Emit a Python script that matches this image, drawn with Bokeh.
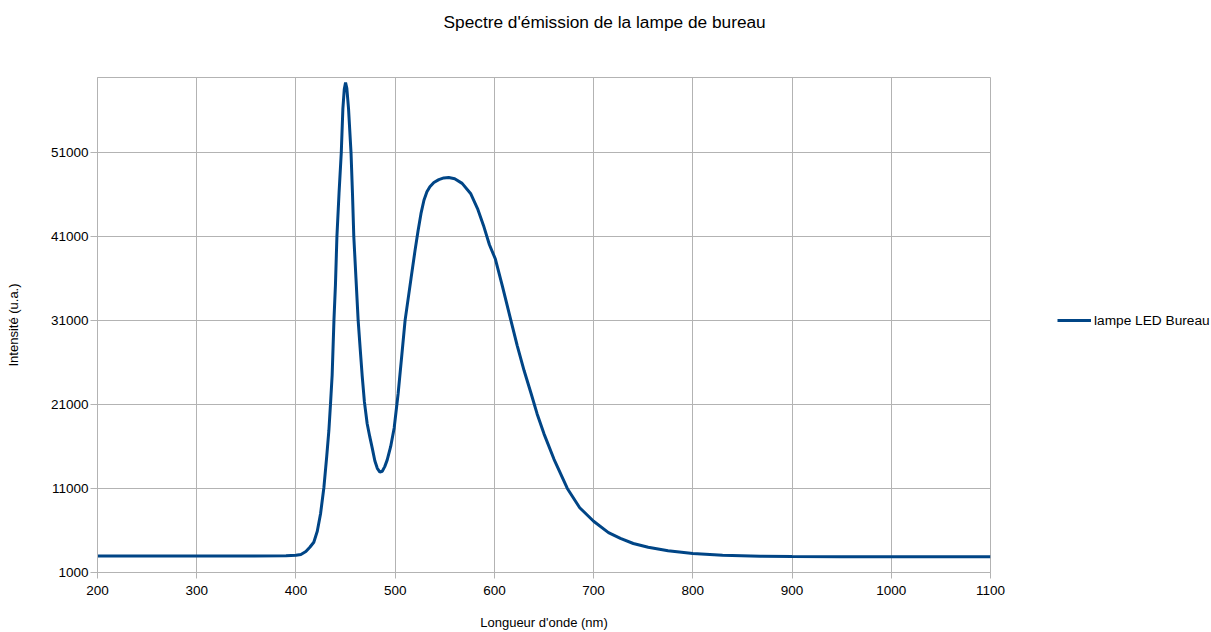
from bokeh.plotting import figure
from bokeh.layouts import row
from bokeh.models import Range1d, FixedTicker, Legend, LegendItem, Title
from bokeh.embed import file_html
from bokeh.resources import INLINE

# ---- data ----
wavelength_nm = [200, 250, 300, 350, 390, 400, 405, 410, 414, 418, 421.5, 424.8, 428.2, 431, 433.2,
                 434.8, 436.5, 438.3, 439.8, 441.3, 443.5, 445.7, 447.3, 448.7, 450, 451.3, 453,
                 455.5, 457, 458.3, 460.5, 462.7, 464.7, 466.7, 469, 471.8, 474.5, 476.9, 479.5,
                 482, 484.6, 487, 489.5, 492, 495.5, 499, 503, 506, 510, 516, 520, 523, 526, 529,
                 532, 535, 539, 544, 549, 554, 560, 567.5, 576, 583, 589, 595, 601, 608, 616, 623,
                 630, 637, 643, 650, 660, 673.5, 686, 700, 715, 727, 740, 755, 775, 800, 830, 868,
                 900, 950, 1000, 1050, 1100]
intensity = [2950, 2960, 2960, 2970, 2990, 3050, 3150, 3500, 4000, 4600, 5900, 7990, 11150, 14800, 17900,
             21000, 24500, 31000, 35200, 41000, 46300, 51000, 56200, 58500, 59300, 58600, 56200,
             51000, 46000, 41000, 36000, 31000, 27700, 24500, 21300, 18700, 17100, 15800, 14300,
             13400, 12950, 13050, 13600, 14400, 16000, 18200, 22300, 26000, 31000, 36000, 39300, 41600, 43700, 45300,
             46300, 46900, 47400, 47750, 47950, 48000, 47850, 47300, 46100, 44300, 42300, 40000, 38300, 35100, 31300, 28000,
             25000, 22300, 19900, 17500, 14500, 11000, 8700, 7100, 5750, 5050, 4450, 4000, 3580, 3250, 3060, 2930,
             2900, 2880, 2870, 2870, 2870]
series_name = "lampe LED Bureau"
x_ticks = [200, 300, 400, 500, 600, 700, 800, 900, 1000, 1100]
y_ticks = [1000, 11000, 21000, 31000, 41000, 51000]

title_text = "Spectre d'émission de la lampe de bureau"
x_label = "Longueur d'onde (nm)"
y_label = "Intensité (u.a.)"

FONT = "Liberation Sans"
GRID = "#b3b3b3"
LINE = "#004586"

MAIN_W = 1015
p = figure(width=MAIN_W, height=632, output_backend="svg", toolbar_location=None,
           x_range=Range1d(200, 1100), y_range=Range1d(1000, 59900),
           min_border_left=97, min_border_right=MAIN_W - 990, min_border_top=77, min_border_bottom=60)

# spacer between frame and title, then the title further out
spacer = Title(text=" ", text_font=FONT, text_font_size="13px", standoff=29)
p.add_layout(spacer, "above")
main_title = Title(text=title_text, align="left", offset=346, text_font=FONT,
                   text_font_size="17.3px", text_font_style="normal", text_color="#000000", standoff=0)
p.add_layout(main_title, "above")

p.outline_line_color = GRID
p.outline_line_width = 1
p.background_fill_color = "white"
p.border_fill_color = "white"

for ax in (p.xaxis[0], p.yaxis[0]):
    ax.axis_line_color = GRID
    ax.major_tick_line_color = GRID
    ax.minor_tick_line_color = None
    ax.major_tick_in = 0
    ax.major_label_text_font = FONT
    ax.major_label_text_font_size = "13.5px"
    ax.major_label_text_color = "#000000"
    ax.axis_label_text_font = FONT
    ax.axis_label_text_font_size = "13px"
    ax.axis_label_text_font_style = "normal"
    ax.axis_label_text_color = "#000000"

p.xaxis[0].ticker = FixedTicker(ticks=x_ticks)
p.yaxis[0].ticker = FixedTicker(ticks=y_ticks)
p.xaxis[0].major_tick_out = 6
p.xaxis[0].major_label_standoff = 7
p.xaxis[0].axis_label = x_label
p.xaxis[0].axis_label_standoff = 17
p.yaxis[0].major_tick_out = 7
p.yaxis[0].major_label_standoff = 2
p.yaxis[0].axis_label = y_label
p.yaxis[0].axis_label_standoff = 27

p.xgrid.ticker = FixedTicker(ticks=x_ticks)
p.ygrid.ticker = FixedTicker(ticks=y_ticks)
p.xgrid.grid_line_color = GRID
p.ygrid.grid_line_color = GRID

p.line(wavelength_nm, intensity, line_color=LINE, line_width=3)

# ---- legend panel to the right (separate, axis-less figure) ----
LEG_W = 1211 - MAIN_W
pl = figure(width=LEG_W, height=632, output_backend="svg", toolbar_location=None,
            x_range=Range1d(0, 1), y_range=Range1d(0, 1),
            min_border=0, min_border_left=0, min_border_right=0, min_border_top=0, min_border_bottom=0)
pl.axis.visible = False
pl.grid.visible = False
pl.outline_line_color = None
pl.background_fill_color = "white"
pl.border_fill_color = "white"
r_leg = pl.line(wavelength_nm, intensity, line_color=LINE, line_width=3)  # outside range: only its legend swatch shows

legend = Legend(items=[LegendItem(label=series_name, renderers=[r_leg])],
                location=(42, 242), padding=0, margin=0, spacing=0,
                border_line_color=None, background_fill_alpha=0,
                glyph_width=34, glyph_height=20, label_standoff=3,
                label_text_font=FONT, label_text_font_size="13.7px", label_text_color="#000000")
pl.add_layout(legend, "center")

layout = row(p, pl, spacing=0)
open("out.html", "w").write(file_html(layout, INLINE))
